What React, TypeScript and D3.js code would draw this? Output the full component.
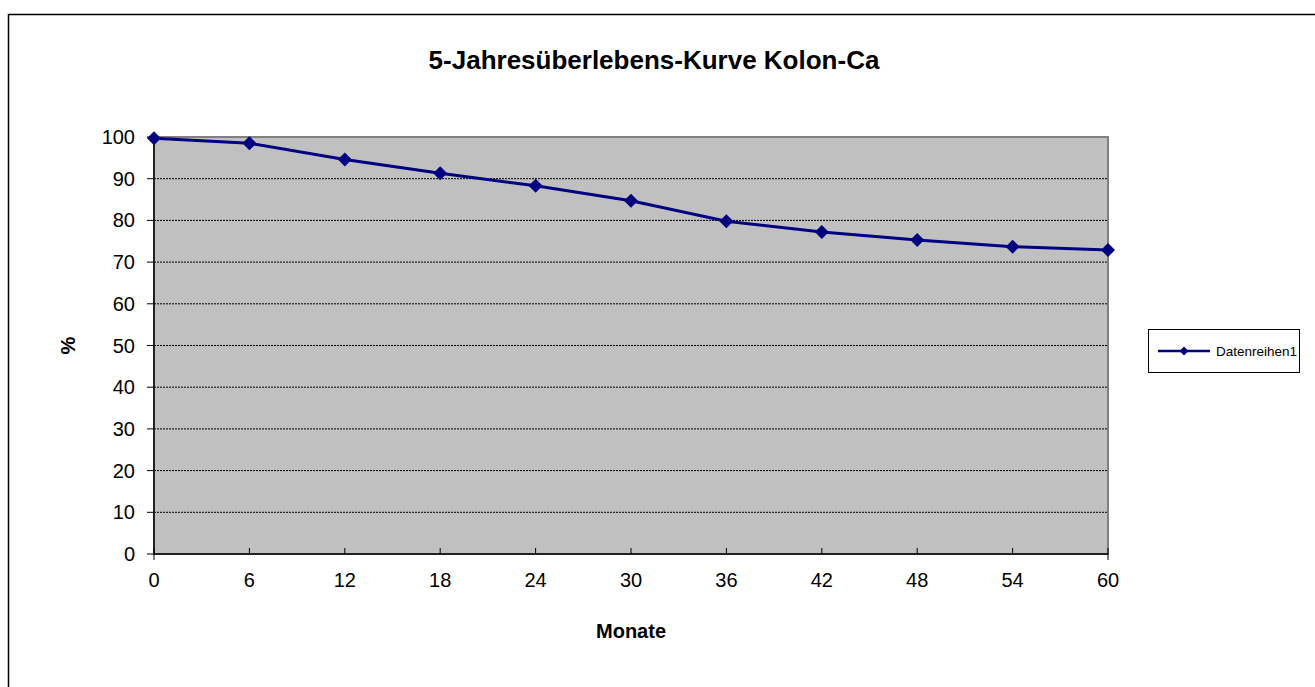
import * as d3 from 'd3';

const months = [0, 6, 12, 18, 24, 30, 36, 42, 48, 54, 60];
const survival = [99.7, 98.5, 94.6, 91.3, 88.3, 84.7, 79.8, 77.2, 75.3, 73.7, 72.9];
const yTicks = [0, 10, 20, 30, 40, 50, 60, 70, 80, 90, 100];
const seriesName = 'Datenreihen1';

const W = 1315;
const H = 687;
const plot = { left: 154, right: 1108, top: 137, bottom: 554 };
const NAVY = '#000080';
const FONT = 'Arial, "Liberation Sans", sans-serif';

function diamond(cx: number, cy: number, r: number) {
  return `M${cx},${cy - r}L${cx + r},${cy}L${cx},${cy + r}L${cx - r},${cy}Z`;
}

export default function App() {
  const x = d3.scaleLinear().domain([0, 60]).range([plot.left, plot.right]);
  const y = d3.scaleLinear().domain([0, 100]).range([plot.bottom, plot.top]);

  const points = months.map((m, i) => ({ m, v: survival[i] }));
  const line = d3.line<{ m: number; v: number }>()
    .x(d => x(d.m))
    .y(d => y(d.v));

  return (
    <svg
      width={W}
      height={H}
      style={{ position: 'absolute', left: 0, top: 0, background: '#fff' }}
      fontFamily={FONT}
    >
      {/* chart frame, right/bottom run off the page */}
      <rect x={8.5} y={14.5} width={1320} height={690} fill="#fff" stroke="#000" strokeWidth={1.5} />

      <text x={654} y={69} textAnchor="middle" fontSize={26} fontWeight="bold">
        5-Jahresüberlebens-Kurve Kolon-Ca
      </text>

      {/* plot area */}
      <rect
        x={plot.left}
        y={plot.top}
        width={plot.right - plot.left}
        height={plot.bottom - plot.top}
        fill="#c0c0c0"
        stroke="#808080"
        strokeWidth={2}
      />

      {yTicks.filter(t => t > 0 && t < 100).map(t => (
        <line
          key={'g' + t}
          x1={plot.left}
          x2={plot.right - 1}
          y1={y(t)}
          y2={y(t)}
          stroke="#000"
          strokeWidth={1}
          strokeDasharray="2,1"
        />
      ))}

      {/* axes */}
      <line x1={plot.left} x2={plot.left} y1={plot.top} y2={plot.bottom} stroke="#222" strokeWidth={2} />
      <line x1={plot.left} x2={plot.right} y1={plot.bottom} y2={plot.bottom} stroke="#222" strokeWidth={2} />

      {yTicks.map(t => (
        <g key={'y' + t}>
          <line x1={plot.left - 7} x2={plot.left} y1={y(t)} y2={y(t)} stroke="#000" strokeWidth={1} />
          <text x={135} y={y(t) + 7} textAnchor="end" fontSize={20}>{t}</text>
        </g>
      ))}

      {months.map((m, i) => {
        const end = i === 0 || i === months.length - 1;
        return (
          <g key={'x' + m}>
            <line
              x1={x(m)}
              x2={x(m)}
              y1={plot.bottom - 6}
              y2={end ? plot.bottom + 6 : plot.bottom}
              stroke="#000"
              strokeWidth={1}
            />
            <text x={x(m)} y={587} textAnchor="middle" fontSize={20}>{m}</text>
          </g>
        );
      })}

      <text x={631} y={638} textAnchor="middle" fontSize={20} fontWeight="bold">Monate</text>
      <text
        transform={`translate(75,${(plot.top + plot.bottom) / 2}) rotate(-90)`}
        textAnchor="middle"
        fontSize={20}
        fontWeight="bold"
      >
        %
      </text>

      {/* series */}
      <path d={line(points) || ''} fill="none" stroke={NAVY} strokeWidth={3} />
      {points.map(p => (
        <path key={'p' + p.m} d={diamond(x(p.m), y(p.v), 7)} fill={NAVY} />
      ))}

      {/* legend */}
      <rect x={1148.5} y={329.5} width={151} height={43} fill="#fff" stroke="#000" strokeWidth={1} />
      <line x1={1158} x2={1210} y1={351} y2={351} stroke={NAVY} strokeWidth={2.5} />
      <path d={diamond(1184, 351, 4.5)} fill={NAVY} />
      <text x={1216} y={356} fontSize={13.5}>{seriesName}</text>
    </svg>
  );
}
